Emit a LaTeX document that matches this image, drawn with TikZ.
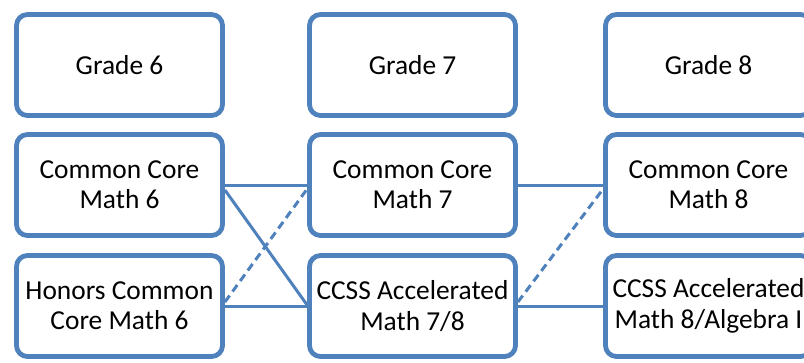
\documentclass[tikz,border=0pt]{standalone}
\usepackage{fontspec}
\setmainfont{Carlito}
\definecolor{boxblue}{HTML}{4F81BD}
\begin{document}
\begin{tikzpicture}[x=1bp,y=-1bp,
  course/.style={draw=boxblue, line width=4.8bp, rounded corners=11bp, fill=white,
    minimum width=206bp, minimum height=101bp, inner sep=0pt, align=center,
    font=\fontsize{27.5}{30.5}\selectfont},
  link/.style={draw=boxblue, line width=3bp},
  dlink/.style={link, dash pattern=on 8bp off 5bp}]
\clip (0,0) rectangle (804,362);
\fill[white] (0,0) rectangle (804,362);
\node[course] (g6) at (119.5,65) {Grade 6};
\node[course] (g7) at (412.5,65) {Grade 7};
\node[course] (g8) at (708.5,65) {Grade 8};
\node[course] (cc6) at (119.5,185) {Common Core\\Math 6};
\node[course] (cc7) at (412.5,185) {Common Core\\Math 7};
\node[course] (cc8) at (708.5,185) {Common Core\\Math 8};
\node[course] (hon6) at (119.5,306) {Honors Common\\Core Math 6};
\node[course] (acc7) at (412.5,306) {CCSS Accelerated\\Math 7/8};
\node[course] (acc8) at (708.5,306) {CCSS Accelerated\\Math 8/Algebra I};
\draw[link] (cc6.east) -- (cc7.west);
\draw[link] ([yshift=-5bp]cc6.east) -- ([yshift=1bp]acc7.west);
\draw[dlink] ([yshift=4bp]hon6.east) -- ([yshift=-4bp]cc7.west);
\draw[link] (hon6.east) -- (acc7.west);
\draw[link] (cc7.east) -- (cc8.west);
\draw[dlink] ([yshift=4bp]acc7.east) -- ([yshift=-4bp]cc8.west);
\draw[link] (acc7.east) -- (acc8.west);
\end{tikzpicture}
\end{document}
